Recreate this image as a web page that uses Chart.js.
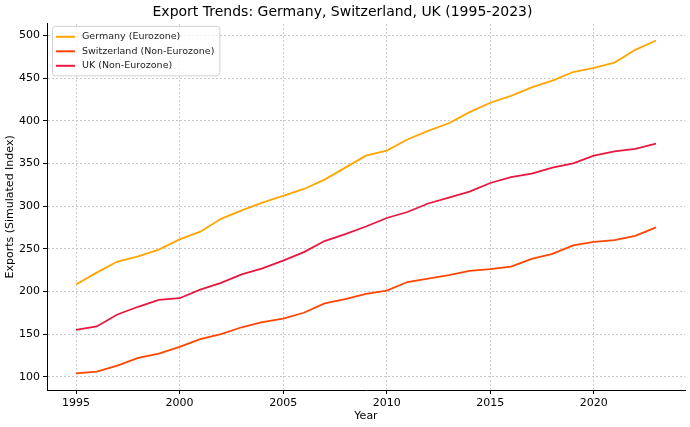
<!DOCTYPE html>
<html>
<head>
<meta charset="utf-8">
<script src="https://cdn.jsdelivr.net/npm/chart.js@4.4.1/dist/chart.umd.min.js"></script>
<style>
  body { margin: 0; background: #fff; }
  #wrap { width: 690px; height: 427px; }
</style>
</head>
<body>
<div id="wrap"><canvas id="chart"></canvas></div>
<script>
const years = [];
for (let y = 1995; y <= 2023; y++) years.push(y);

const germany = [208, 222, 235, 241, 249, 261, 270, 285, 295, 304, 312, 320, 331, 345, 359, 365,
  378, 388, 397, 410, 421, 429, 439, 447, 457, 462, 468, 483, 494];
const switzerland = [104, 106, 113, 122, 127, 135, 144, 150, 158, 164, 168, 175, 186, 191, 197, 201,
  211, 215, 219, 224, 226, 229, 238, 244, 254, 258, 260, 265, 275];
const uk = [155, 159, 173, 182, 190, 192, 202, 210, 220, 227, 236, 246, 259, 267, 276, 286,
  293, 303, 310, 317, 327, 334, 338, 345, 350, 359, 364, 367, 373];

const xTicks = [1995, 2000, 2005, 2010, 2015, 2020];
const yTicks = [100, 150, 200, 250, 300, 350, 400, 450, 500];

const font = "'DejaVu Sans', sans-serif";

function toPoints(vals) {
  return vals.map((v, i) => ({ x: years[i], y: v }));
}

// legend drawn inside the plot, top-left, like matplotlib
const innerLegend = {
  id: 'innerLegend',
  afterDraw(chart) {
    const ctx = chart.ctx;
    const area = chart.chartArea;
    const x0 = area.left + 5, y0 = area.top + 2;
    const rowH = 14.5;
    ctx.save();
    ctx.font = "9.5px " + font;
    let w = 0;
    chart.data.datasets.forEach(ds => { w = Math.max(w, ctx.measureText(ds.label).width); });
    const boxW = w + 35, boxH = rowH * chart.data.datasets.length + 6;
    ctx.fillStyle = 'rgba(255,255,255,0.8)';
    ctx.strokeStyle = '#d0d0d0';
    ctx.lineWidth = 1;
    ctx.beginPath();
    ctx.roundRect(x0 + 0.5, y0 + 0.5, boxW, boxH, 3);
    ctx.fill();
    ctx.stroke();
    chart.data.datasets.forEach((ds, i) => {
      const cy = y0 + 11 + i * rowH;
      ctx.strokeStyle = ds.borderColor;
      ctx.lineWidth = 2;
      ctx.beginPath();
      ctx.moveTo(x0 + 4, cy);
      ctx.lineTo(x0 + 23, cy);
      ctx.stroke();
      ctx.fillStyle = '#222';
      ctx.textBaseline = 'middle';
      ctx.fillText(ds.label, x0 + 30, cy);
    });
    ctx.restore();
  }
};

new Chart(document.getElementById('chart'), {
  type: 'line',
  data: {
    datasets: [
      { label: 'Germany (Eurozone)', data: toPoints(germany), borderColor: '#FFA500' },
      { label: 'Switzerland (Non-Eurozone)', data: toPoints(switzerland), borderColor: '#FF4500' },
      { label: 'UK (Non-Eurozone)', data: toPoints(uk), borderColor: '#E8173F' }
    ]
  },
  options: {
    responsive: true,
    maintainAspectRatio: false,
    animation: false,
    elements: {
      line: { borderWidth: 1.8, tension: 0 },
      point: { radius: 0 }
    },
    layout: { padding: { left: 0, right: 5, top: 1, bottom: 0 } },
    plugins: {
      legend: { display: false },
      tooltip: { enabled: false },
      title: {
        display: true,
        text: 'Export Trends: Germany, Switzerland, UK (1995-2023)',
        color: '#000',
        font: { family: font, size: 14, weight: 'normal' },
        padding: { top: 3, bottom: 3 }
      }
    },
    scales: {
      x: {
        type: 'linear',
        min: 1993.6,
        max: 2024.4,
        afterBuildTicks: s => { s.ticks = xTicks.map(v => ({ value: v })); },
        afterFit: s => { s.height = 37; },
        ticks: { color: '#000', font: { family: font, size: 11 }, padding: 3, callback: v => String(v) },
        grid: { color: '#c8c8c8', tickColor: '#000', tickBorderDash: [], tickLength: 4 },
        border: { display: true, color: '#000', width: 1, dash: [2, 2] },
        title: { display: true, text: 'Year', color: '#000', font: { family: font, size: 11 }, padding: { top: 1 } }
      },
      y: {
        min: 84.5,
        max: 513.5,
        afterBuildTicks: s => { s.ticks = yTicks.map(v => ({ value: v })); },
        afterFit: s => { s.width = 47; },
        ticks: { color: '#000', font: { family: font, size: 11 }, padding: 3 },
        grid: { color: '#c8c8c8', tickColor: '#000', tickBorderDash: [], tickLength: 4 },
        border: { display: true, color: '#000', width: 1, dash: [2, 2] },
        title: { display: true, text: 'Exports (Simulated Index)', color: '#000', font: { family: font, size: 11 }, padding: { bottom: 2 } }
      }
    }
  },
  plugins: [innerLegend]
});
</script>
</body>
</html>
